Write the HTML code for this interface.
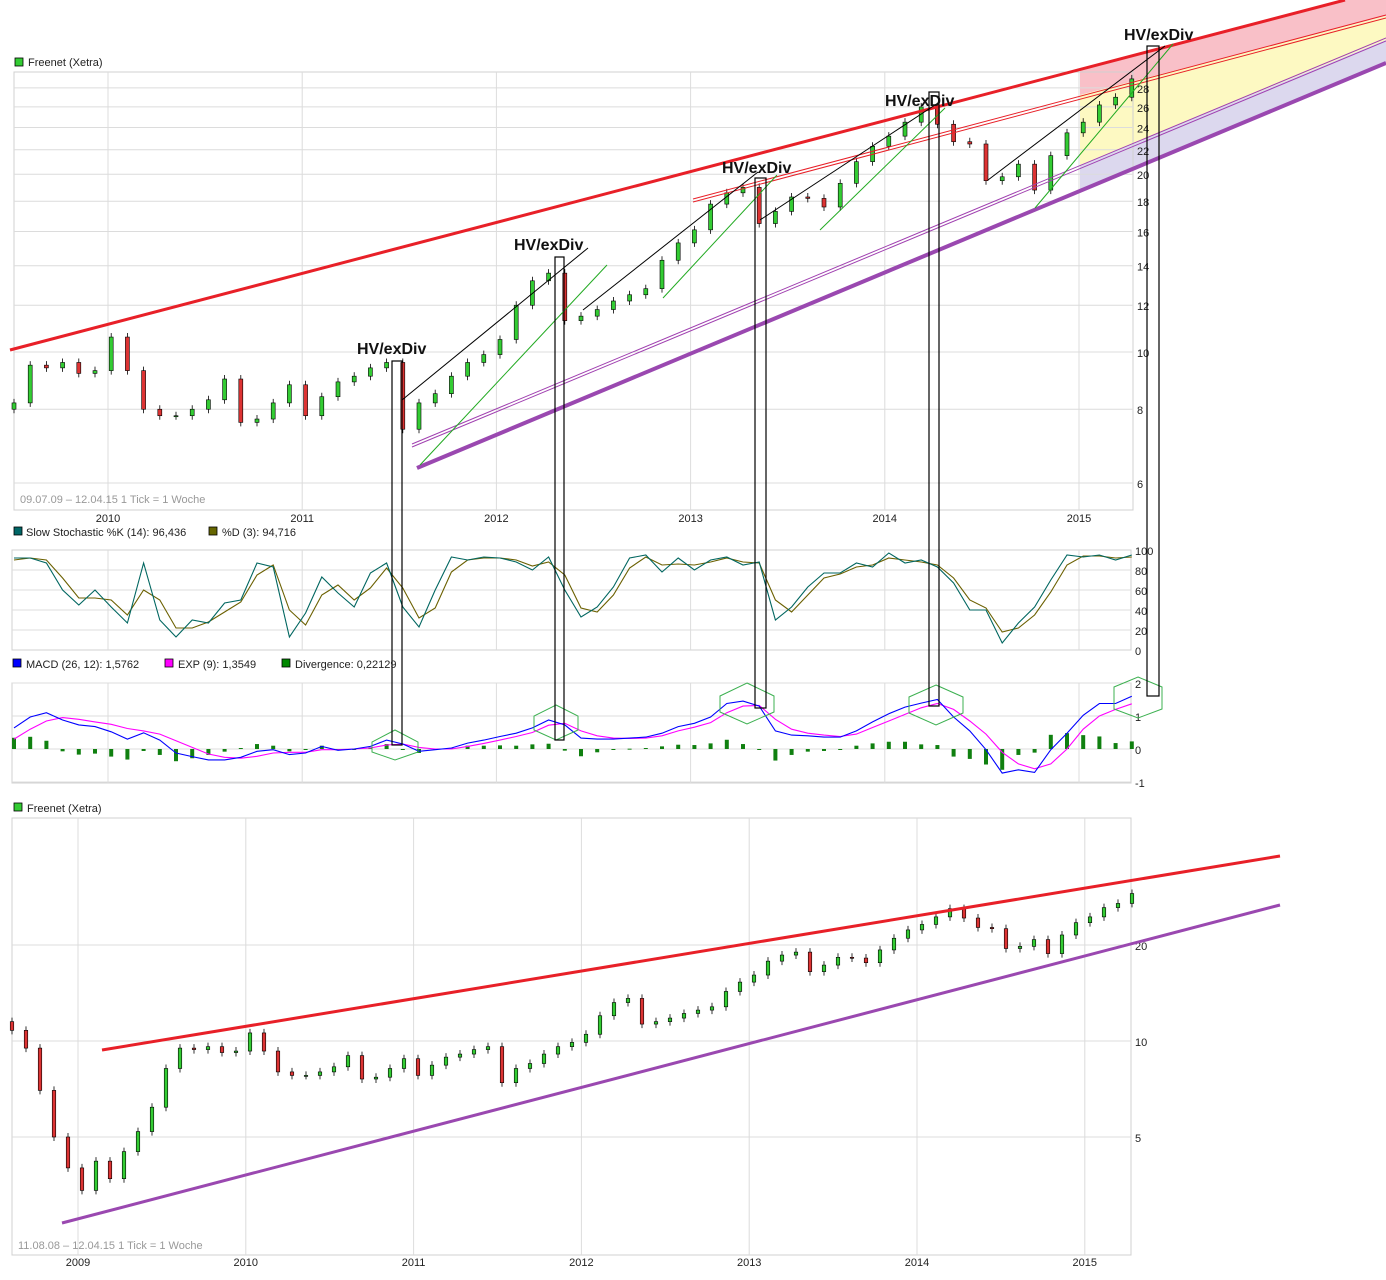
<!DOCTYPE html>
<html><head><meta charset="utf-8">
<style>
body{margin:0;background:#fff;}
svg{display:block;font-family:"Liberation Sans",sans-serif;}
.t{font-size:11px;fill:#222;}
.ax{font-size:11px;fill:#222;}
.g{stroke:#dcdcdc;stroke-width:1;}
.hv{font-size:16px;font-weight:bold;fill:#111;}
</style></head>
<body>
<svg id="c" width="1386" height="1280" viewBox="0 0 1386 1280" xmlns="http://www.w3.org/2000/svg">
<g id="shade">
  <polygon points="1080,70 1345,0 1386,0 1386,16 1080,95" fill="#f9c0c8"/>
  <polygon points="1080,95 1386,16 1386,40 1080,165" fill="#fdf9c2"/>
  <polygon points="1080,165 1386,40 1386,63 1080,192" fill="#dcd8ee"/>
</g>
<g id="grid"></g>
<g id="candlesTop"></g>
<g id="candlesBot"></g>
<g id="ind"></g>
<g id="lines">
  <line x1="10" y1="350" x2="1345" y2="0" stroke="#e82028" stroke-width="3"/>
  <line x1="693" y1="199" x2="1386" y2="15" stroke="#e82028" stroke-width="1"/>
  <line x1="693" y1="202" x2="1386" y2="18" stroke="#e82028" stroke-width="1"/>
  <line x1="412" y1="444" x2="1386" y2="38" stroke="#a040b0" stroke-width="1"/>
  <line x1="412" y1="447" x2="1386" y2="41" stroke="#a040b0" stroke-width="1"/>
  <line x1="417" y1="468" x2="1386" y2="63" stroke="#9a48b0" stroke-width="4"/>
  <line x1="402" y1="400" x2="588" y2="248" stroke="#000" stroke-width="1"/>
  <line x1="583" y1="310" x2="758" y2="172" stroke="#000" stroke-width="1"/>
  <line x1="760" y1="220" x2="938" y2="103" stroke="#000" stroke-width="1"/>
  <line x1="988" y1="180" x2="1165" y2="46" stroke="#000" stroke-width="1"/>
  <line x1="420" y1="465" x2="607" y2="265" stroke="#2a2" stroke-width="1"/>
  <line x1="663" y1="298" x2="777" y2="175" stroke="#2a2" stroke-width="1"/>
  <line x1="820" y1="230" x2="945" y2="108" stroke="#2a2" stroke-width="1"/>
  <line x1="1035" y1="208" x2="1173" y2="44" stroke="#2a2" stroke-width="1"/>
  <line x1="102" y1="1050" x2="1280" y2="856" stroke="#e82028" stroke-width="3"/>
  <line x1="62" y1="1223" x2="1280" y2="905" stroke="#9a48b0" stroke-width="3"/>
</g>
<g id="hex" fill="none" stroke="#3cb050" stroke-width="1">
  <polygon points="395,730 418,742 418,752 395,760 372,752 372,742"/>
  <polygon points="556,705 578,716 578,730 556,740 534,730 534,716"/>
  <polygon points="747,683 774,696 774,712 747,724 720,712 720,696"/>
  <polygon points="936,685 963,697 963,713 936,725 909,713 909,697"/>
  <polygon points="1138,677 1162,687 1162,709 1138,718 1114,709 1114,687"/>
</g>
<g id="hvrects" fill="none" stroke="#000" stroke-width="1.2">
  <rect x="392" y="361" width="10" height="384"/>
  <rect x="555" y="257" width="9" height="483"/>
  <rect x="755" y="178" width="11" height="530"/>
  <rect x="929" y="92" width="10" height="614"/>
  <rect x="1147" y="46" width="12" height="650"/>
</g>
<g>
  <text class="hv" x="357" y="354">HV/exDiv</text>
  <text class="hv" x="514" y="250">HV/exDiv</text>
  <text class="hv" x="722" y="173">HV/exDiv</text>
  <text class="hv" x="885" y="106">HV/exDiv</text>
  <text class="hv" x="1124" y="40">HV/exDiv</text>
</g>
<g>
  <rect x="15" y="58" width="8" height="8" fill="#3c3" stroke="#000" stroke-width="0.8"/>
  <text class="t" x="28" y="66">Freenet (Xetra)</text>
  <text x="20" y="503" font-size="11" fill="#999">09.07.09 – 12.04.15   1 Tick = 1 Woche</text>
  <rect x="14" y="527" width="8" height="8" fill="#066" stroke="#000" stroke-width="0.8"/>
  <text class="t" x="26" y="536">Slow Stochastic %K (14): 96,436</text>
  <rect x="209" y="527" width="8" height="8" fill="#660" stroke="#000" stroke-width="0.8"/>
  <text class="t" x="222" y="536">%D (3): 94,716</text>
  <rect x="13" y="659" width="8" height="8" fill="#00f" stroke="#000" stroke-width="0.8"/>
  <text class="t" x="26" y="668">MACD (26, 12): 1,5762</text>
  <rect x="165" y="659" width="8" height="8" fill="#f0f" stroke="#000" stroke-width="0.8"/>
  <text class="t" x="178" y="668">EXP (9): 1,3549</text>
  <rect x="282" y="659" width="8" height="8" fill="#080" stroke="#000" stroke-width="0.8"/>
  <text class="t" x="295" y="668">Divergence: 0,22129</text>
  <rect x="14" y="803" width="8" height="8" fill="#3c3" stroke="#000" stroke-width="0.8"/>
  <text class="t" x="27" y="812">Freenet (Xetra)</text>
  <text x="18" y="1249" font-size="11" fill="#999">11.08.08 – 12.04.15   1 Tick = 1 Woche</text>
</g>
</svg>
<script>
// monthly closes 2008-08 .. 2009-06 (only bottom chart)
const preCloses = [10.8,9.5,7.0,5.0,4.0,3.4,4.2,3.7,4.5,5.2,6.2];
// monthly closes 2009-07 .. 2015-04
const closes = [8.2,9.5,9.4,9.6,9.2,9.3,
 10.6,9.3,8.0,7.8,7.8,8.0,8.3,9.0,7.6,7.7,8.2,8.8,
 7.8,8.4,8.9,9.1,9.4,9.6,7.4,8.2,8.5,9.1,9.6,9.9,
 10.5,12.0,13.2,13.6,11.3,11.5,11.8,12.2,12.5,12.8,14.3,15.3,
 16.1,17.8,18.6,19.0,16.5,17.3,18.3,18.2,17.6,19.3,21.0,22.3,
 23.2,24.5,26.0,24.3,22.7,22.5,19.5,19.8,20.8,18.8,21.5,23.5,
 24.5,26.2,27.0,29.0];
const stochK = [92,92,87,60,45,60,43,27,87,30,13,30,27,47,50,87,83,13,37,73,57,43,77,87,43,23,60,93,90,93,92,88,80,93,60,33,43,63,92,95,78,92,80,90,93,85,88,30,43,63,77,77,87,83,97,87,90,83,67,40,40,7,27,43,70,95,93,95,90,95];
const stochD = [90,92,90,72,52,52,50,35,60,50,22,22,28,38,48,75,85,40,25,55,65,50,62,82,62,32,42,78,90,92,92,90,84,88,75,42,38,55,82,93,85,86,85,88,92,88,87,50,38,55,72,76,83,85,92,90,88,85,72,50,42,18,22,35,58,85,94,94,92,93];
const macd = [0.64,0.97,1.1,0.88,0.73,0.68,0.52,0.30,0.49,0.27,-0.12,-0.23,-0.33,-0.33,-0.25,-0.07,-0.02,-0.17,-0.12,0.08,-0.04,0.0,0.08,0.27,0.15,-0.07,-0.02,0.03,0.18,0.27,0.38,0.48,0.64,0.88,0.73,0.33,0.30,0.30,0.33,0.36,0.48,0.68,0.78,0.97,1.38,1.45,1.3,0.55,0.42,0.4,0.36,0.36,0.55,0.82,1.07,1.27,1.39,1.5,0.97,0.55,-0.02,-0.73,-0.63,-0.71,-0.02,0.48,1.02,1.38,1.38,1.6];
const signal = [0.3,0.6,0.85,0.95,0.9,0.82,0.75,0.62,0.55,0.45,0.25,0.05,-0.15,-0.25,-0.28,-0.22,-0.12,-0.1,-0.1,-0.02,-0.02,0,0.03,0.12,0.15,0.05,0,0,0.08,0.17,0.27,0.38,0.5,0.72,0.78,0.55,0.4,0.33,0.32,0.33,0.4,0.55,0.66,0.8,1.1,1.3,1.32,0.9,0.6,0.48,0.42,0.38,0.45,0.65,0.85,1.05,1.25,1.38,1.2,0.85,0.45,-0.1,-0.45,-0.6,-0.45,0,0.6,1.0,1.2,1.37];
const divergence = [0.34,0.37,0.25,-0.07,-0.17,-0.14,-0.23,-0.32,-0.06,-0.18,-0.37,-0.28,-0.18,-0.08,0.03,0.15,0.10,-0.07,-0.02,0.10,-0.02,0.0,0.05,0.15,0.0,-0.12,-0.02,0.03,0.10,0.10,0.11,0.10,0.14,0.16,-0.05,-0.22,-0.1,-0.03,0.01,0.03,0.08,0.13,0.12,0.17,0.28,0.15,-0.02,-0.35,-0.18,-0.08,-0.06,-0.02,0.1,0.17,0.22,0.22,0.14,0.12,-0.23,-0.3,-0.47,-0.63,-0.18,-0.11,0.43,0.48,0.42,0.38,0.18,0.23];
const topTicks = [6,8,10,12,14,16,18,20,22,24,26,28];
const botTicks = [5,10,20];
const stochTicks = [0,20,40,60,80,100];
const macdTicks = [-1,0,1,2];
const topYears = ['2010','2011','2012','2013','2014','2015'];
const botYears = ['2009','2010','2011','2012','2013','2014','2015'];

const NS='http://www.w3.org/2000/svg';
function mk(tag,attrs,parent){const e=document.createElementNS(NS,tag);for(const k in attrs)e.setAttribute(k,attrs[k]);parent.appendChild(e);return e;}
const grid=document.getElementById('grid');
const yTop=p=>352-256.5*Math.log(p/10);
const xTop=i=>14+i*16.2;
const yBot=p=>1041-138.5*Math.log(p/10);
const xBot=i=>12+i*14;
const yStoch=v=>650-v;
const yMacd=v=>749-33*v;
const xInd=i=>14+i*16.2;

[[14,72,1119,438],[12,550,1119,100],[12,683,1119,100],[12,818,1119,437]].forEach((r,k)=>{
  const e=mk('rect',{x:r[0],y:r[1],width:r[2],height:r[3],fill:'none',stroke:'#d0d0d0'},grid);
  
  
});
topTicks.forEach(t=>{const y=yTop(t);
  const l=mk('line',{x1:14,x2:1133,y1:y,y2:y,class:'g'},grid);
  
  
  const tx=mk('text',{x:1137,y:y+5,class:'ax'},grid);tx.textContent=t;
  
  
});
topYears.forEach((y,k)=>{const x=108+k*194.2;
  mk('line',{x1:x,x2:x,y1:72,y2:510,class:'g'},grid);mk('line',{x1:x,x2:x,y1:550,y2:650,class:'g'},grid);mk('line',{x1:x,x2:x,y1:683,y2:783,class:'g'},grid);
  const tx=mk('text',{x:x,y:522,class:'ax','text-anchor':'middle'},grid);tx.textContent=y;
  
  
});
stochTicks.forEach(t=>{const y=yStoch(t);
  if(t>0&&t<100)mk('line',{x1:12,x2:1131,y1:y,y2:y,class:'g'},grid);
  const tx=mk('text',{x:1135,y:y+5,class:'ax'},grid);tx.textContent=t;
  
  
});
macdTicks.forEach(t=>{const y=yMacd(t);
  mk('line',{x1:12,x2:1131,y1:y,y2:y,class:'g'},grid);
  const tx=mk('text',{x:1135,y:y+5,class:'ax'},grid);tx.textContent=t;
  
  
});
botTicks.forEach(t=>{const y=yBot(t);
  mk('line',{x1:12,x2:1131,y1:y,y2:y,class:'g'},grid);
  const tx=mk('text',{x:1135,y:y+5,class:'ax'},grid);tx.textContent=t;
  
  
});
botYears.forEach((y,k)=>{const x=78+k*167.8;
  mk('line',{x1:x,x2:x,y1:818,y2:1255,class:'g'},grid);
  const tx=mk('text',{x:x,y:1266,class:'ax','text-anchor':'middle'},grid);tx.textContent=y;
  
  
});

function candles(series,start,xf,yf,w,g,nm){
  series.forEach((c,i)=>{
    const o=i>0?series[i-1]:start;
    const yo=yf(o),yc=yf(c),x=xf(i);
    const top=Math.min(yo,yc),bot=Math.max(yo,yc);
    const wick=mk('line',{x1:x,x2:x,y1:top-4,y2:bot+4,stroke:'#000','stroke-width':0.8},g);
    
    
    const r=mk('rect',{x:x-w/2,y:top,width:w,height:Math.max(1,bot-top),fill:c>=o?'#33cc33':'#dd3333',stroke:'#000','stroke-width':0.6},g);
    
    
  });
}
candles(closes,8.0,xTop,yTop,4,document.getElementById('candlesTop'),'price-candle');
const all=preCloses.concat(closes);
candles(all,11.5,xBot,yBot,3.5,document.getElementById('candlesBot'),'longterm-candle');

const ind=document.getElementById('ind');
divergence.forEach((v,i)=>{
  const y0=yMacd(0),y1=yMacd(v);
  const b=mk('rect',{x:xInd(i)-2,y:Math.min(y0,y1),width:4,height:Math.max(1,Math.abs(y1-y0)),fill:'#108010'},ind);
  
  
});
function line(arr,yf,col,nm){
  const p=mk('polyline',{points:arr.map((v,i)=>xInd(i).toFixed(1)+','+yf(v).toFixed(1)).join(' '),fill:'none',stroke:col,'stroke-width':1.1},ind);
  
  
}
line(stochD,yStoch,'#6b6000','stoch-d-line');
line(stochK,yStoch,'#006660','stoch-k-line');
line(signal,yMacd,'#ff00ff','exp-line');
line(macd,yMacd,'#0000ff','macd-line');
</script>
</body></html>
